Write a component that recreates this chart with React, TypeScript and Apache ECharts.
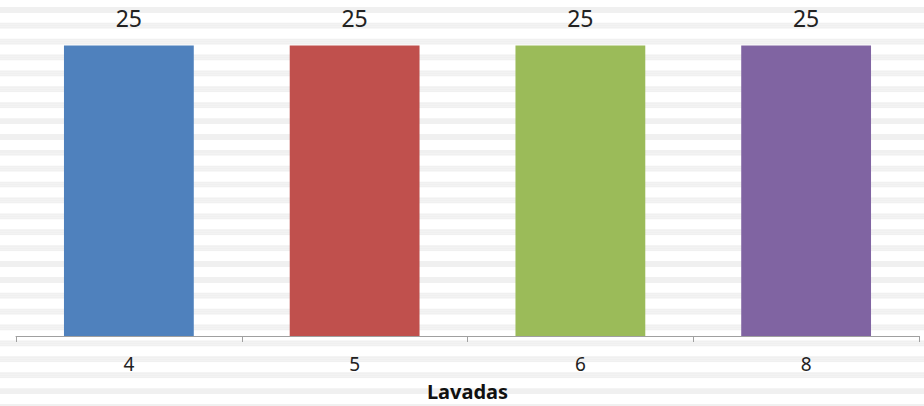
import React, { useEffect, useRef } from "react";
import * as echarts from "echarts";

const categories = ["4", "5", "6", "8"];
const values = [25, 25, 25, 25];
const barColors = ["#4f81bd", "#c0504d", "#9bbb59", "#8064a2"];
const axisTitle = "Lavadas";

// background stripe pattern: 8 bands per period (3 gray, 5 white)
const stripeColors = ["#ffffff", "#ffffff", "#ffffff", "#f0f0f0", "#f0f0f0", "#f0f0f0", "#ffffff", "#ffffff"];

export default function App() {
  const ref = useRef<HTMLDivElement>(null);
  useEffect(() => {
    if (!ref.current) return;
    const chart = echarts.init(ref.current, null, { renderer: "svg" });
    const font = "'Noto Sans', sans-serif";
    chart.setOption({
      animation: false,
      backgroundColor: "#ffffff",
      grid: [
        { left: 16, right: 5, top: 45.5, bottom: 65.5 },
        { left: 0, right: 0, top: 1, bottom: 0 },
      ],
      xAxis: [
        {
          type: "category",
          gridIndex: 0,
          data: categories,
          z: 5,
          axisLine: { lineStyle: { color: "#a0a0a0", width: 1 } },
          axisTick: { show: true, length: 6, alignWithLabel: false, lineStyle: { color: "#a0a0a0" } },
          axisLabel: { fontSize: 19, color: "#222", fontFamily: font, margin: 18 },
          name: axisTitle,
          nameLocation: "middle",
          nameGap: 45,
          nameTextStyle: { fontSize: 20, fontWeight: "bold", color: "#111", fontFamily: font },
        },
        { type: "value", gridIndex: 1, min: 0, max: 1, show: false },
      ],
      yAxis: [
        { type: "value", gridIndex: 0, min: 0, max: 25, show: false },
        {
          type: "value",
          gridIndex: 1,
          min: 0,
          max: 204,
          interval: 1,
          inverse: true,
          z: -1,
          axisLine: { show: false },
          axisTick: { show: false },
          axisLabel: { show: false },
          splitLine: { show: false },
          splitArea: { show: true, areaStyle: { color: stripeColors } },
        },
      ],
      series: [
        {
          type: "bar",
          xAxisIndex: 0,
          yAxisIndex: 0,
          barWidth: "57.5%",
          z: 3,
          data: values.map((v, i) => ({ value: v, itemStyle: { color: barColors[i] } })),
          label: {
            show: true,
            position: "top",
            distance: 16,
            fontSize: 23,
            color: "#222",
            fontFamily: font,
          },
        },
      ],
    });
    return () => chart.dispose();
  }, []);
  return (
    <div
      ref={ref}
      style={{ position: "fixed", left: 0, top: 0, width: 924, height: 406 }}
    />
  );
}
